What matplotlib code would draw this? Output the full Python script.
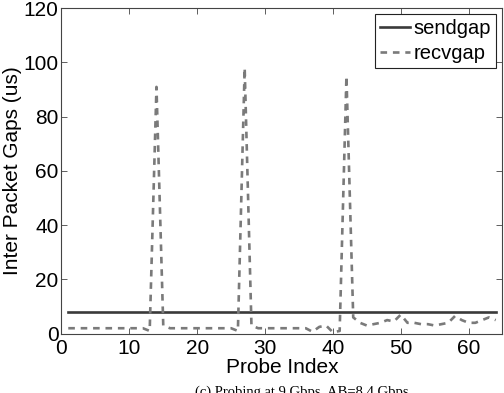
import numpy as np
import matplotlib
matplotlib.use('Agg')
import matplotlib.pyplot as plt

# --- datos ---
probe_idx = np.arange(1, 65)
sendgap = [8] * 64
recvgap = [2, 2, 2, 2, 2, 2, 2, 2, 2, 2, 2, 2,          # 1-12
           1, 91, 3,                                      # 13-15
           2, 2, 2, 2, 2, 2, 2, 2, 2, 2,                  # 16-25
           1, 98, 3,                                      # 26-28
           2, 2, 2, 2, 2, 2, 2, 2,                        # 29-36
           0.7, 2.5, 3, 0.5, 1,                           # 37-41
           95, 6, 4, 3, 3.5, 4, 5, 4.5, 7,                # 42-50
           4, 4, 3.5, 3.5, 3, 3.5, 4, 6.5, 5, 4, 4, 5, 6, 5]  # 51-64

x_ticks = [0, 10, 20, 30, 40, 50, 60]
y_ticks = [0, 20, 40, 60, 80, 100, 120]

plt.rcParams['font.family'] = ['Liberation Sans', 'DejaVu Sans']

fig = plt.figure(figsize=(5.04, 3.93), dpi=100)
ax = fig.add_axes([0.122, 0.151, 0.875, 0.828])

ax.plot(probe_idx, sendgap, color='#3a3a3a', lw=1.9, label='sendgap')
ax.plot(probe_idx, recvgap, color='#7a7a7a', lw=1.9, ls=(0, (2.5, 2.2)), label='recvgap')

ax.set_xlim(0, 65)
ax.set_ylim(0, 120)
ax.set_xticks(x_ticks)
ax.set_yticks(y_ticks)
ax.tick_params(direction='in', length=4, width=0.6, top=True, right=True,
               labelsize=15, color='#444444')
ax.tick_params(axis='x', pad=4)
ax.tick_params(axis='y', pad=2)
for s in ax.spines.values():
    s.set_linewidth(0.8)
    s.set_color('#444444')

ax.set_xlabel('Probe Index', fontsize=15, labelpad=0)
ax.set_ylabel('Inter Packet Gaps (us)', fontsize=15, labelpad=1)

leg = ax.legend(loc='upper right', fontsize=14.5, handlelength=1.5, handletextpad=0.2,
                borderpad=0.25, labelspacing=0.3, borderaxespad=0.3,
                fancybox=False, framealpha=1)
leg.get_frame().set_edgecolor('#222222')
leg.get_frame().set_linewidth(0.8)

fig.text(0.598, 0.018, '(c) Probing at 9 Gbps, AB=8.4 Gbps', ha='center', va='top',
         fontsize=10.5, family='Liberation Serif')

fig.savefig('out.png', dpi=100)
